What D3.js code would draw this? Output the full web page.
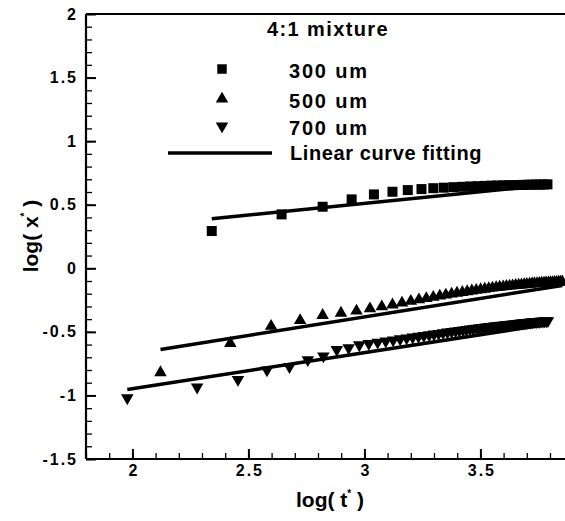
<!DOCTYPE html>
<html>
<head>
<meta charset="utf-8">
<script src="https://cdn.jsdelivr.net/npm/d3@7"></script>
<style>
  body { margin: 0; background: #fff; }
  text { font-family: "Liberation Sans", Arial, sans-serif; font-weight: bold; fill: #000; }
</style>
</head>
<body>
<div id="chart"></div>
<script>
// values: log(t*) and log(x*)
const legendTitle = "4:1 mixture";
const seriesNames = ["300 um", "500 um", "700 um"];
const fitName = "Linear curve fitting";

const logT300 = [2.342, 2.643, 2.820, 2.945, 3.041, 3.121, 3.187, 3.246, 3.297, 3.342, 3.384, 3.422, 3.456, 3.489,
  3.519, 3.547, 3.573, 3.598, 3.621, 3.643, 3.665, 3.685, 3.704, 3.723, 3.740, 3.757, 3.774, 3.789];
const logX300 = [0.293, 0.424, 0.484, 0.542, 0.581, 0.602, 0.615, 0.623, 0.630, 0.634, 0.638, 0.641, 0.644, 0.646,
  0.648, 0.650, 0.651, 0.652, 0.653, 0.654, 0.655, 0.656, 0.657, 0.658, 0.658, 0.659, 0.659, 0.660];

const logT500 = [2.121, 2.422, 2.598, 2.723, 2.820, 2.899, 2.966, 3.024, 3.075, 3.121, 3.162, 3.200, 3.235, 3.267,
  3.297, 3.325, 3.351, 3.376, 3.399, 3.422, 3.443, 3.463, 3.482, 3.501, 3.519, 3.536, 3.552, 3.568, 3.583, 3.598,
  3.612, 3.626, 3.639, 3.652, 3.665, 3.677, 3.689, 3.700, 3.712, 3.723, 3.733, 3.744, 3.754, 3.764, 3.774, 3.783,
  3.793, 3.802, 3.811, 3.820, 3.828, 3.837, 3.845, 3.853];
const logX500 = [-0.82, -0.59, -0.455, -0.41, -0.37, -0.352, -0.335, -0.318, -0.302, -0.287, -0.272, -0.259, -0.247, -0.237,
  -0.227, -0.218, -0.210, -0.202, -0.195, -0.189, -0.183, -0.177, -0.172, -0.167, -0.163, -0.159, -0.155, -0.151, -0.148, -0.145,
  -0.142, -0.139, -0.137, -0.134, -0.132, -0.130, -0.128, -0.126, -0.124, -0.122, -0.120, -0.119, -0.117, -0.116, -0.115, -0.114,
  -0.113, -0.112, -0.111, -0.110, -0.109, -0.108, -0.107, -0.106];

const logT700 = [1.978, 2.279, 2.455, 2.580, 2.677, 2.756, 2.823, 2.881, 2.932, 2.978, 3.019, 3.057, 3.092, 3.124,
  3.154, 3.182, 3.208, 3.233, 3.256, 3.279, 3.300, 3.320, 3.339, 3.358, 3.376, 3.393, 3.409, 3.425, 3.440, 3.455,
  3.469, 3.483, 3.496, 3.509, 3.522, 3.534, 3.546, 3.558, 3.569, 3.580, 3.590, 3.601, 3.611, 3.621, 3.631, 3.640,
  3.650, 3.659, 3.668, 3.677, 3.685, 3.694, 3.702, 3.710, 3.718, 3.726, 3.734, 3.741, 3.749, 3.756, 3.763, 3.770,
  3.777, 3.784, 3.791];
const logX700 = [-1.02, -0.935, -0.875, -0.80, -0.775, -0.72, -0.69, -0.64, -0.625, -0.603, -0.592, -0.582, -0.573, -0.564,
  -0.556, -0.549, -0.542, -0.536, -0.530, -0.524, -0.518, -0.513, -0.508, -0.503, -0.498, -0.494, -0.490, -0.486, -0.482, -0.478,
  -0.475, -0.472, -0.469, -0.466, -0.463, -0.460, -0.458, -0.455, -0.453, -0.451, -0.449, -0.447, -0.445, -0.443, -0.441, -0.439,
  -0.437, -0.435, -0.433, -0.431, -0.430, -0.428, -0.427, -0.425, -0.424, -0.422, -0.421, -0.420, -0.419, -0.418, -0.417, -0.416,
  -0.415, -0.414, -0.413];

// linear fits: end points
const fitT300 = [2.342, 3.789], fitX300 = [0.39, 0.655];
const fitT500 = [2.121, 3.853], fitX500 = [-0.638, -0.135];
const fitT700 = [1.978, 3.791], fitX700 = [-0.953, -0.44];

const xMajor = [2, 2.5, 3, 3.5];
const yMajor = [-1.5, -1, -0.5, 0, 0.5, 1, 1.5, 2];

const width = 565, height = 521;
const margin = {top: 14, left: 86, bottom: 62};

const svg = d3.select('#chart').append('svg')
  .attr('width', width)
  .attr('height', height);

const xScale = d3.scaleLinear().domain([1.8, 4.0]).range([margin.left, margin.left + 2.2 * 232]);
const yScale = d3.scaleLinear().domain([-1.5, 2]).range([height - margin.bottom, margin.top]);
const yBottom = yScale(-1.5);

// minor ticks
svg.append('g')
  .attr('transform', `translate(0, ${yBottom})`)
  .call(d3.axisBottom(xScale).tickValues(d3.range(18, 41).map(d => d / 10)).tickSize(-6).tickFormat(''))
  .call(g => g.select('.domain').remove())
  .selectAll('line').attr('stroke-width', 1.3);
svg.append('g')
  .attr('transform', `translate(${margin.left}, 0)`)
  .call(d3.axisLeft(yScale).tickValues(d3.range(-15, 21).map(d => d / 10)).tickSize(-6).tickFormat(''))
  .call(g => g.select('.domain').remove())
  .selectAll('line').attr('stroke-width', 1.3);

// major ticks + labels (plain hyphen for negatives, as in the original)
const plain = d => String(d);
const xAxisG = svg.append('g')
  .attr('transform', `translate(0, ${yBottom})`)
  .call(d3.axisBottom(xScale).tickValues(xMajor).tickSize(-10).tickPadding(6).tickFormat(plain));
const yAxisG = svg.append('g')
  .attr('transform', `translate(${margin.left}, 0)`)
  .call(d3.axisLeft(yScale).tickValues(yMajor).tickSize(-10).tickPadding(10).tickFormat(plain));

[xAxisG, yAxisG].forEach(g => {
  g.attr('font-size', null).attr('font-family', null);
  g.selectAll('.domain').remove();
  g.selectAll('line').attr('stroke-width', 2);
  g.selectAll('text')
    .style('font-size', '16px')
    .style('letter-spacing', '2px')
    .attr('fill', '#000');
});
// letter-spacing adds space after the last glyph too; pull labels back
yAxisG.selectAll('text').attr('dx', '2');
xAxisG.selectAll('text').attr('dx', '1');

// frame: left, bottom, top (right side cut off)
const frame = svg.append('g').attr('stroke', '#000').attr('stroke-width', 2.2);
frame.append('line').attr('x1', margin.left).attr('x2', margin.left).attr('y1', margin.top).attr('y2', yBottom);
frame.append('line').attr('x1', margin.left).attr('x2', width).attr('y1', yBottom).attr('y2', yBottom);
frame.append('line').attr('x1', margin.left).attr('x2', width).attr('y1', margin.top).attr('y2', margin.top);

// fit lines
const line = d3.line().x(d => xScale(d[0])).y(d => yScale(d[1]));
[[fitT300, fitX300], [fitT500, fitX500], [fitT700, fitX700]].forEach(([t, x]) => {
  svg.append('path')
    .attr('d', line(d3.zip(t, x)))
    .attr('fill', 'none')
    .attr('stroke', '#000')
    .attr('stroke-width', 3.5);
});

// markers
const square = d3.symbol().type(d3.symbolSquare).size(100)();
const tri = d3.symbol().type(d3.symbolTriangle).size(68)();
const markers = [
  {t: logT300, x: logX300, path: square, rot: 0},
  {t: logT500, x: logX500, path: tri, rot: 0},
  {t: logT700, x: logX700, path: tri, rot: 180}
];
markers.forEach(s => {
  svg.append('g').selectAll('path')
    .data(d3.zip(s.t, s.x))
    .join('path')
      .attr('d', s.path)
      .attr('transform', d => `translate(${xScale(d[0])}, ${yScale(d[1])}) rotate(${s.rot})`)
      .attr('fill', '#000');
});

// legend
const legend = svg.append('g');
legend.append('text')
  .attr('x', 328).attr('y', 36)
  .attr('text-anchor', 'middle')
  .style('font-size', '20px')
  .style('letter-spacing', '1.4px')
  .text(legendTitle);
const legendRows = [69, 99, 126];
markers.forEach((s, i) => {
  legend.append('path')
    .attr('d', i === 0 ? d3.symbol().type(d3.symbolSquare).size(90)() : s.path)
    .attr('transform', `translate(222, ${legendRows[i]}) rotate(${s.rot})`)
    .attr('fill', '#000');
  legend.append('text')
    .attr('x', 289).attr('y', legendRows[i] + 8.5)
    .style('font-size', '20px')
    .style('letter-spacing', '1.8px')
    .text(seriesNames[i]);
});
legend.append('line')
  .attr('x1', 168).attr('x2', 272).attr('y1', 153).attr('y2', 153)
  .attr('stroke', '#000').attr('stroke-width', 3.5);
legend.append('text')
  .attr('x', 290).attr('y', 160)
  .style('font-size', '20px')
  .style('letter-spacing', '0.6px')
  .text(fitName);

// axis titles
const xTitle = svg.append('text')
  .attr('x', 330).attr('y', 507)
  .attr('text-anchor', 'middle')
  .style('font-size', '21px');
xTitle.append('tspan').text('log( t');
xTitle.append('tspan').attr('dy', -10).style('font-size', '10px').text('*');
xTitle.append('tspan').attr('dy', 10).text(' )');

const yTitle = svg.append('text')
  .attr('transform', 'translate(38, 236) rotate(-90)')
  .attr('text-anchor', 'middle')
  .style('font-size', '21px');
yTitle.append('tspan').text('log( x');
yTitle.append('tspan').attr('dy', -10).style('font-size', '10px').text('*');
yTitle.append('tspan').attr('dy', 10).text(' )');
</script>
</body>
</html>
